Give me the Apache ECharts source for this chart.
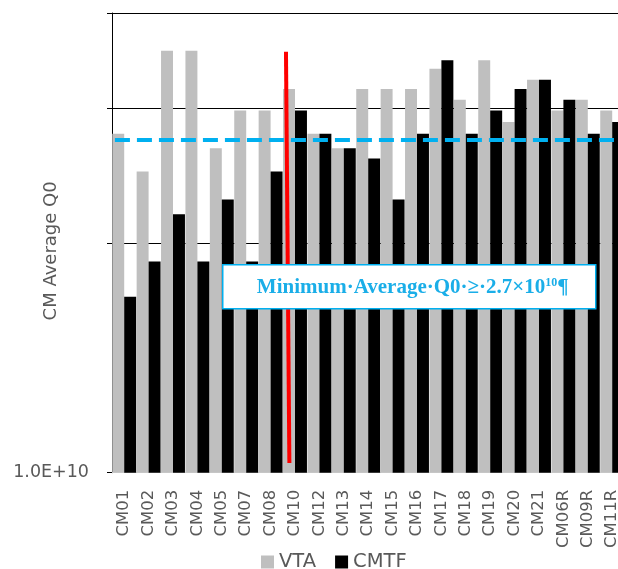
<!DOCTYPE html>
<html>
<head>
<meta charset="utf-8">
<script src="https://cdn.jsdelivr.net/npm/echarts@6/dist/echarts.min.js"></script>
<style>html,body{margin:0;padding:0;background:#fff;}#c{width:618px;height:569px;}</style>
</head>
<body>
<div id="c"></div>
<script>
var categories = ['CM01','CM02','CM03','CM04','CM05','CM07','CM08','CM10','CM12','CM13','CM14','CM15','CM16','CM17','CM18','CM19','CM20','CM21','CM06R','CM09R','CM11R'];
var vta  = [2.78e10,2.48e10,3.57e10,3.57e10,2.66e10,2.98e10,2.98e10,3.18e10,2.78e10,2.66e10,3.18e10,3.18e10,3.18e10,3.38e10,3.08e10,3.47e10,2.88e10,3.27e10,2.98e10,3.08e10,2.98e10];
var cmtf = [1.70e10,1.89e10,2.18e10,1.89e10,2.28e10,1.89e10,2.48e10,2.98e10,2.78e10,2.66e10,2.58e10,2.28e10,2.78e10,3.47e10,2.78e10,2.98e10,3.18e10,3.27e10,3.08e10,2.78e10,2.88e10];
var yTicks = [1e10, 2e10, 3e10, 4e10];
var yLabels = [1e10];
var threshold = 2.73e10;
var thresholdText = 'Minimum·Average·Q0·≥·2.7×10';
var redLineX = [7.13, 7.27];
var redLineY = [3.56e10, 1.03e10];

var chart = echarts.init(document.getElementById('c'), null, {renderer:'canvas'});
var FONT = 'DejaVu Sans';
var BLUE = '#1AAEE8';
chart.setOption({
  animation: false,
  backgroundColor: '#fff',
  grid: {left: 112, top: 13, width: 512.4, height: 459.7, containLabel: false, outerBoundsMode: 'none'},
  legend: {
    left: 256, top: 547, itemWidth: 13, itemHeight: 13, itemGap: 19, icon: 'rect',
    textStyle: {fontFamily: FONT, fontSize: 19.5, color: '#595959'},
    data: ['VTA','CMTF']
  },
  xAxis: [{
    type: 'category', data: categories,
    axisLine: {lineStyle: {color: '#D9D9D9', width: 1}},
    axisTick: {show: false},
    axisLabel: {rotate: 90, interval: 0, margin: 17, fontFamily: FONT, fontSize: 16.5, color: '#595959'}
  }, {
    type: 'value', min: 0, max: categories.length, show: false
  }],
  yAxis: {
    type: 'log', logBase: 10, min: 1e10, max: 4e10,
    name: 'CM Average Q0', nameLocation: 'middle', nameGap: 52, nameMoveOverlap: false,
    nameTextStyle: {fontFamily: FONT, fontSize: 18, color: '#595959', padding: [0, 16, 0, 0]},
    axisLine: {show: true, lineStyle: {color: '#000', width: 1}},
    axisTick: {show: true, inside: false, length: 5, customValues: yTicks, lineStyle: {color: '#000'}},
    axisLabel: {customValues: yLabels, margin: 23, fontFamily: FONT, fontSize: 17.5, color: '#595959',
      formatter: function (v) { return Number(v).toExponential(1).toUpperCase(); }},
    splitLine: {show: true, lineStyle: {color: '#000', width: 1}}
  },
  series: [{
    name: 'VTA', type: 'bar', data: vta, barGap: '0%', barCategoryGap: '2%',
    itemStyle: {color: '#BFBFBF'}, z: 2
  }, {
    name: 'CMTF', type: 'bar', data: cmtf, barGap: '0%', barCategoryGap: '2%',
    itemStyle: {color: '#000000'}, z: 2
  }, {
    name: 'annot', type: 'line', xAxisIndex: 1, yAxisIndex: 0, data: [], z: 5,
    markLine: {
      silent: true, symbol: 'none', animation: false,
      label: {show: false},
      data: [
        [{coord: [0.12, threshold], lineStyle: {color: '#00B0F0', width: 4, type: [15, 7]}},
         {coord: [categories.length, threshold]}],
        [{coord: [redLineX[0], redLineY[0]], lineStyle: {color: '#FF0000', width: 4, type: 'solid'}},
         {coord: [redLineX[1], redLineY[1]]}]
      ]
    }
  }],
  graphic: [{
    type: 'group', left: 222, top: 264, z: 100,
    children: [{
      type: 'rect', z: 100, shape: {x: 0, y: 0, width: 373, height: 44},
      style: {fill: '#fff', stroke: '#00B0F0', lineWidth: 1.5}
    }, {
      type: 'text', z: 101, x: 190, y: 23,
      style: {
        text: '{m|' + thresholdText + '}{s|10}{m|¶}',
        fill: BLUE,
        align: 'center', verticalAlign: 'middle',
        rich: {
          m: {fontFamily: 'Liberation Serif', fontWeight: 'bold', fontSize: 21, fill: BLUE},
          s: {fontFamily: 'Liberation Serif', fontWeight: 'bold', fontSize: 12, fill: BLUE, verticalAlign: 'top', padding: [0,0,10,0]}
        }
      }
    }]
  }]
});
</script>
</body>
</html>
